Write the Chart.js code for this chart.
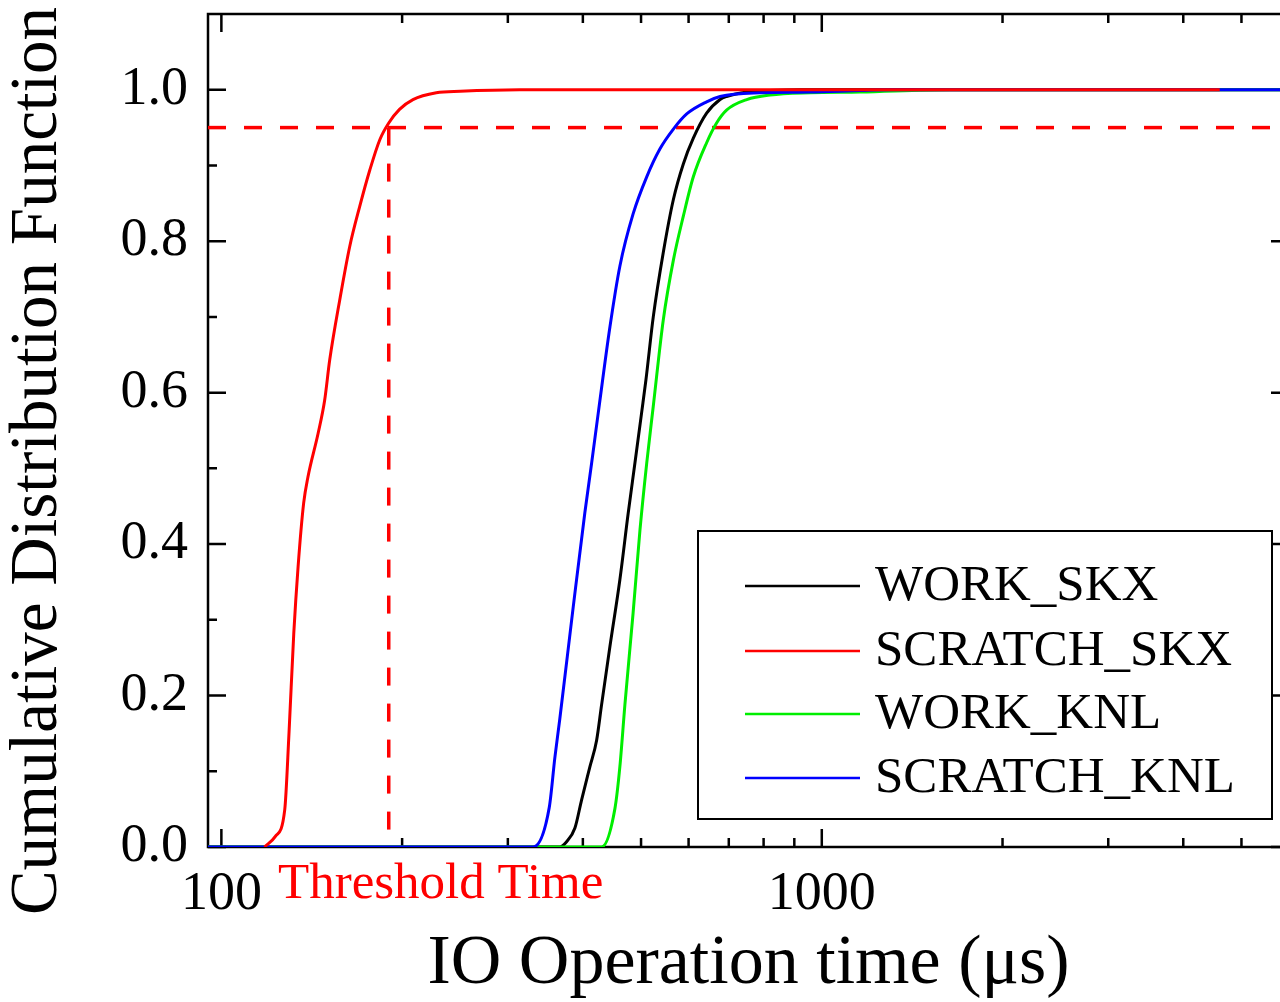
<!DOCTYPE html>
<html>
<head>
<meta charset="utf-8">
<title>IO operation time CDF</title>
<script src="https://cdn.jsdelivr.net/npm/chart.js@4.4.1/dist/chart.umd.min.js"></script>
<style>
  html, body { margin: 0; padding: 0; background: #fff; overflow: hidden; }
  .chart-wrap { width: 1300px; height: 1002px; }
</style>
</head>
<body>
<div class="chart-wrap"><canvas id="cdfChart" width="1300" height="1002"></canvas></div>
<script>
// Values (x = IO time in us, y = CDF)
const workSkxTime = [95, 366, 375.8, 388, 398, 411, 421.7, 429.8, 443.8, 461, 476, 488.4, 501, 509.5, 524, 544.5, 566, 588, 611, 643, 677, 694, 750, 820, 920, 6000];
const workSkxCdf = [0, 0, 0.007, 0.025, 0.062, 0.106, 0.141, 0.188, 0.265, 0.353, 0.441, 0.507, 0.573, 0.617, 0.7, 0.785, 0.855, 0.902, 0.936, 0.969, 0.987, 0.991, 0.997, 0.999, 1.0, 1.0];

const scratchSkxTime = [118, 123, 127.5, 129.6, 132, 134.2, 137.1, 139.4, 144.9, 148.6, 151.5, 157.5, 163.6, 170, 176.7, 183.6, 190, 198, 208.5, 228, 250, 314, 4600];
const scratchSkxCdf = [0, 0.014, 0.049, 0.15, 0.282, 0.37, 0.454, 0.489, 0.546, 0.59, 0.643, 0.723, 0.793, 0.846, 0.894, 0.934, 0.956, 0.974, 0.987, 0.996, 0.998, 1.0, 1.0];

const workKnlTime = [95, 429.8, 452.4, 461, 470, 485, 498, 511, 524, 544.5, 566, 588, 611, 643, 668, 694, 750, 820, 956, 1158, 1636, 6000];
const workKnlCdf = [0, 0, 0.051, 0.106, 0.188, 0.309, 0.419, 0.507, 0.582, 0.696, 0.775, 0.833, 0.885, 0.93, 0.956, 0.973, 0.987, 0.993, 0.996, 0.997, 1.0, 1.0];

const scratchKnlTime = [95, 330.6, 351.6, 359.4, 366, 385.5, 403, 413.7, 424.3, 443.8, 461, 485, 511, 537.7, 566, 595.7, 643, 677, 789, 956, 1158, 1315, 6000];
const scratchKnlCdf = [0, 0, 0.052, 0.119, 0.168, 0.317, 0.441, 0.507, 0.573, 0.687, 0.767, 0.836, 0.885, 0.922, 0.948, 0.968, 0.984, 0.991, 0.996, 0.997, 0.999, 1.0, 1.0];

const thresholdTime = 190;
const thresholdCdf = 0.95;

const xLabelTicks = [100, 1000];
const xMinorTicks = [200, 300, 400, 500, 600, 700, 800, 900, 2000, 3000, 4000, 5000];
const yLabelTicks = [0, 0.2, 0.4, 0.6, 0.8, 1.0];
const yMinorTicks = [0.1, 0.3, 0.5, 0.7, 0.9];

const serif = '"Liberation Serif", "Times New Roman", serif';
Chart.defaults.font.family = serif;
Chart.defaults.color = "#000";

function toPoints(xs, ys) {
  return xs.map((v, i) => ({ x: v, y: ys[i] }));
}

function curve(label, xs, ys, color, order) {
  return {
    label: label,
    data: toPoints(xs, ys),
    borderColor: color,
    backgroundColor: color,
    borderWidth: 3,
    showLine: true,
    pointRadius: 0,
    cubicInterpolationMode: "monotone",
    order: order
  };
}

const curves = [
  curve("WORK_SKX", workSkxTime, workSkxCdf, "#000000", 3),
  curve("SCRATCH_SKX", scratchSkxTime, scratchSkxCdf, "#ff0000", 0),
  curve("WORK_KNL", workKnlTime, workKnlCdf, "#00ee00", 2),
  curve("SCRATCH_KNL", scratchKnlTime, scratchKnlCdf, "#0000ff", 1)
];

// threshold guide lines
const guides = [
  {
    label: "threshold-h",
    data: [{ x: 95, y: thresholdCdf }, { x: 6000, y: thresholdCdf }],
    borderColor: "#ff0000",
    borderWidth: 3.5,
    borderDash: [18, 18],
    showLine: true,
    pointRadius: 0,
    order: 4
  },
  {
    label: "threshold-v",
    data: [{ x: thresholdTime, y: thresholdCdf }, { x: thresholdTime, y: 0 }],
    borderColor: "#ff0000",
    borderWidth: 3.5,
    borderDash: [18, 18],
    showLine: true,
    pointRadius: 0,
    order: 4
  }
];

// frame with inward ticks on all four sides, legend box and extra text
const framePlugin = {
  id: "frame",
  beforeDatasetsDraw(chart) {
    const { ctx, chartArea: a, scales } = chart;
    const xs = scales.x, ys = scales.y;
    ctx.save();
    ctx.strokeStyle = "#000";
    ctx.lineWidth = 2.5;
    ctx.strokeRect(a.left, a.top, a.right - a.left, a.bottom - a.top);
    ctx.beginPath();
    const seg = (x1, y1, x2, y2) => { ctx.moveTo(x1, y1); ctx.lineTo(x2, y2); };
    const xTick = (v, len) => {
      const px = xs.getPixelForValue(v);
      seg(px, a.bottom, px, a.bottom - len);
      seg(px, a.top, px, a.top + len);
    };
    const yTick = (v, len) => {
      const py = ys.getPixelForValue(v);
      seg(a.left, py, a.left + len, py);
      seg(a.right, py, a.right - len, py);
    };
    xLabelTicks.forEach(v => xTick(v, 18));
    xMinorTicks.forEach(v => xTick(v, 9));
    yLabelTicks.forEach(v => yTick(v, 18));
    yMinorTicks.forEach(v => yTick(v, 9));
    ctx.stroke();
    ctx.restore();
  },
  afterDraw(chart) {
    const { ctx } = chart;
    ctx.save();

    // y axis title
    ctx.fillStyle = "#000";
    ctx.font = "67px " + serif;
    ctx.textAlign = "center";
    ctx.textBaseline = "middle";
    ctx.translate(38, 461);
    ctx.rotate(-Math.PI / 2);
    ctx.fillText("Cumulative Distribution Function", 0, 0);
    ctx.setTransform(1, 0, 0, 1, 0, 0);

    // threshold label
    ctx.fillStyle = "#ff0000";
    ctx.font = "51px " + serif;
    ctx.textAlign = "left";
    ctx.fillText("Threshold Time", 278, 885);

    // legend
    ctx.fillStyle = "#fff";
    ctx.fillRect(698, 531, 574, 288);
    ctx.strokeStyle = "#000";
    ctx.lineWidth = 2;
    ctx.strokeRect(698, 531, 574, 288);
    const rows = [586, 651, 714, 778];
    ctx.font = "51px " + serif;
    curves.forEach((ds, i) => {
      ctx.strokeStyle = ds.borderColor;
      ctx.lineWidth = 2.5;
      ctx.beginPath();
      ctx.moveTo(745, rows[i]);
      ctx.lineTo(860, rows[i]);
      ctx.stroke();
      ctx.fillStyle = "#000";
      ctx.fillText(ds.label, 875, rows[i] + 1);
    });
    ctx.restore();
  }
};

const ctx = document.getElementById("cdfChart").getContext("2d");
new Chart(ctx, {
  type: "scatter",
  data: { datasets: curves.concat(guides) },
  options: {
    responsive: false,
    animation: false,
    devicePixelRatio: 1,
    layout: { padding: { top: 14, right: 11, left: 0, bottom: 0 } },
    plugins: {
      legend: { display: false },
      tooltip: { enabled: false }
    },
    scales: {
      x: {
        type: "logarithmic",
        min: 95,
        max: 6000,
        grid: { display: false, drawTicks: false },
        border: { display: false },
        afterBuildTicks: scale => { scale.ticks = xLabelTicks.map(v => ({ value: v })); },
        afterFit: scale => {
          scale.height = 155;
          scale.paddingLeft = 0;
          scale.paddingRight = 0;
        },
        ticks: {
          autoSkip: false,
          maxRotation: 0,
          padding: 21,
          font: { size: 54, lineHeight: 1 },
          color: "#000",
          callback: v => String(v)
        },
        title: {
          display: true,
          text: "IO Operation time (μs)",
          color: "#000",
          font: { size: 70, lineHeight: 1 },
          padding: { top: 0, bottom: 2 }
        }
      },
      y: {
        min: 0,
        max: 1.1,
        grid: { display: false, drawTicks: false },
        border: { display: false },
        afterBuildTicks: scale => { scale.ticks = yLabelTicks.map(v => ({ value: v })); },
        afterFit: scale => {
          scale.width = 208;
          scale.paddingTop = 0;
          scale.paddingBottom = 0;
        },
        ticks: {
          padding: 20,
          font: { size: 54, lineHeight: 1 },
          color: "#000",
          callback: v => v.toFixed(1)
        }
      }
    }
  },
  plugins: [framePlugin]
});
</script>
</body>
</html>
